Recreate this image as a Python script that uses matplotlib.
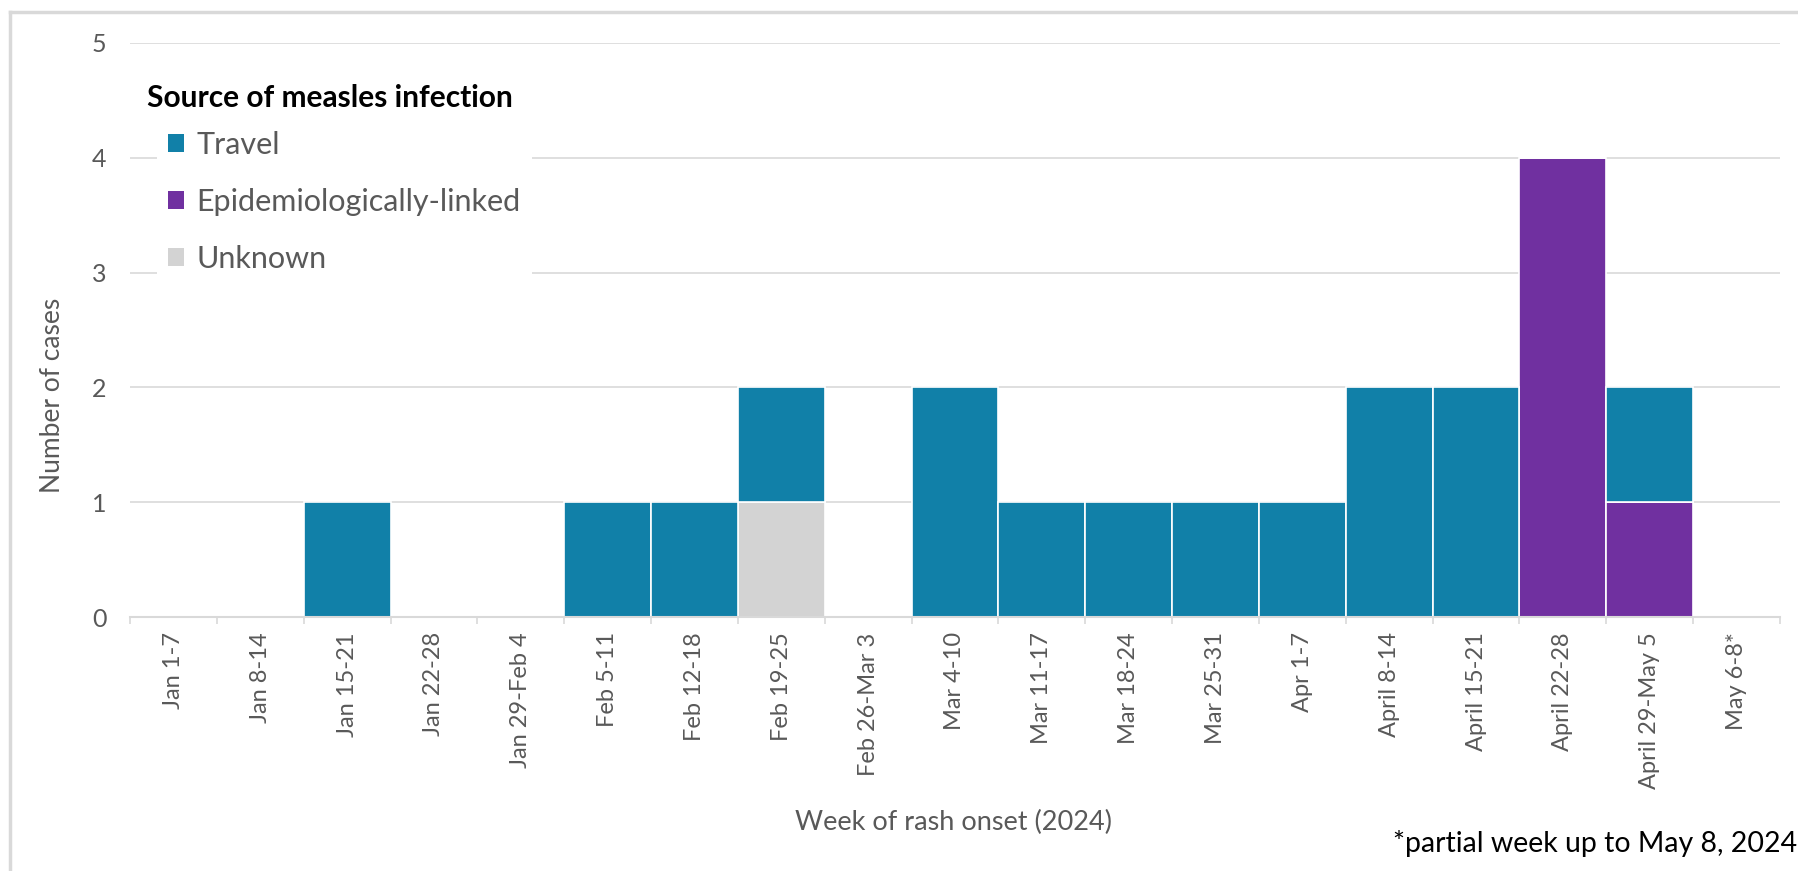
"""Weekly measles cases by source of infection, stacked bar chart (2024)."""

import matplotlib

matplotlib.use("Agg")

import matplotlib.pyplot as plt
import numpy as np
from matplotlib.lines import Line2D
from matplotlib.patches import Patch

weeks = [
    "Jan 1-7", "Jan 8-14", "Jan 15-21", "Jan 22-28", "Jan 29-Feb 4",
    "Feb 5-11", "Feb 12-18", "Feb 19-25", "Feb 26-Mar 3", "Mar 4-10",
    "Mar 11-17", "Mar 18-24", "Mar 25-31", "Apr 1-7", "April 8-14",
    "April 15-21", "April 22-28", "April 29-May 5", "May 6-8*",
]
travel = [0, 0, 1, 0, 0, 1, 1, 1, 0, 2, 1, 1, 1, 1, 2, 2, 0, 1, 0]
epi_linked = [0, 0, 0, 0, 0, 0, 0, 0, 0, 0, 0, 0, 0, 0, 0, 0, 4, 1, 0]
unknown = [0, 0, 0, 0, 0, 0, 0, 1, 0, 0, 0, 0, 0, 0, 0, 0, 0, 0, 0]

legend_labels = ["Travel", "Epidemiologically-linked", "Unknown"]

# Styling
W, H = 1799, 871
TRAVEL_COLOR = "#1180A8"
EPI_COLOR = "#7030A0"
UNKNOWN_COLOR = "#D3D3D3"
TEXT_GRAY = "#595959"
GRID_GRAY = "#D9D9D9"

plt.rcParams["font.family"] = ["Lato", "DejaVu Sans"]

fig = plt.figure(figsize=(W / 100, H / 100), dpi=100)
fig.patch.set_facecolor("white")
ax = fig.add_axes([130 / W, 1 - 617 / H, 1650 / W, 574 / H])

x = np.arange(len(weeks))
epi = np.array(epi_linked)
unk = np.array(unknown)
trav = np.array(travel)

bar_kw = dict(width=1.0, edgecolor="white", linewidth=1.2)
ax.bar(x, epi, color=EPI_COLOR, **bar_kw)
ax.bar(x, unk, bottom=epi, color=UNKNOWN_COLOR, **bar_kw)
ax.bar(x, trav, bottom=epi + unk, color=TRAVEL_COLOR, **bar_kw)

# Axes
ax.set_xlim(-0.5, len(weeks) - 0.5)
ax.set_ylim(0, 5)
ax.set_yticks(range(0, 6))
ax.set_xticks(x)
ax.set_xticklabels(weeks, rotation=90, fontsize=17, color=TEXT_GRAY, va="top")
ax.set_xticks(np.arange(-0.5, len(weeks)), minor=True)
ax.tick_params(axis="x", which="major", length=0, pad=11)
ax.tick_params(axis="x", which="minor", length=5, width=1.2, color=GRID_GRAY)
ax.tick_params(axis="y", length=0, pad=17, labelsize=18, labelcolor=TEXT_GRAY)

ax.set_axisbelow(True)
ax.yaxis.grid(True, color=GRID_GRAY, linewidth=1.2)
for name, spine in ax.spines.items():
    spine.set_visible(name == "bottom")
ax.spines["bottom"].set_color(GRID_GRAY)
ax.spines["bottom"].set_linewidth(1.5)

# Axis titles and footnote
fig.text(53 / W, 1 - 395 / H, "Number of cases", rotation=90, ha="center",
         va="center", fontsize=19, color=TEXT_GRAY)
fig.text(954 / W, 1 - 822 / H, "Week of rash onset (2024)", ha="center",
         va="center", fontsize=19.5, color=TEXT_GRAY)
fig.text(1797 / W, 1 - 843 / H, "*partial week up to May 8, 2024",
         ha="right", va="center", fontsize=20.5, color="black")

# Legend
handles = [Patch(facecolor=c, edgecolor="none")
           for c in (TRAVEL_COLOR, EPI_COLOR, UNKNOWN_COLOR)]
leg = ax.legend(
    handles, legend_labels,
    loc="upper left",
    bbox_to_anchor=(157 / W, 1 - 120 / H),
    bbox_transform=fig.transFigure,
    frameon=True, fancybox=False, framealpha=1,
    facecolor="white", edgecolor="none",
    fontsize=22, labelcolor=TEXT_GRAY,
    handlelength=0.55, handleheight=0.55, handletextpad=0.4,
    labelspacing=0.95, borderpad=0.35, borderaxespad=0,
)
fig.text(147 / W, 1 - 98 / H, "Source of measles infection", ha="left",
         va="center", fontsize=21.5, fontweight="bold", color="black")

# Light frame around the chart area
fig.add_artist(Line2D([10 / W, 10 / W], [0, 1 - 12 / H], color=GRID_GRAY,
                      linewidth=2.5, transform=fig.transFigure))
fig.add_artist(Line2D([10 / W, 1], [1 - 12 / H, 1 - 12 / H], color=GRID_GRAY,
                      linewidth=2.5, transform=fig.transFigure))

fig.savefig("out.png", dpi=100, facecolor="white")
plt.close(fig)
